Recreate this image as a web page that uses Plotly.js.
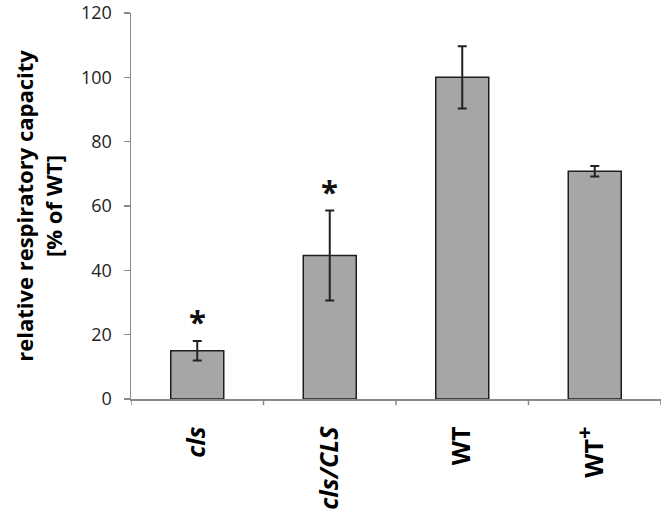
<!DOCTYPE html>
<html>
<head>
<meta charset="utf-8">
<script src="https://cdn.plot.ly/plotly-3.0.1.min.js"></script>
<style>html,body{margin:0;padding:0;background:#fff;}#chart{width:666px;height:513px;}</style>
</head>
<body>
<div id="chart"></div>
<script>
const categories = ["cls", "cls/CLS", "WT", "WT+"];
const tickLabels = ["<i>cls</i>", "<i>cls/CLS</i>", "WT", "WT<sup><span style=\"font-size:22px\">+</span></sup>"];
const values = [15, 44.6, 100, 70.8];
const errors = [3, 14, 9.7, 1.6];
const significant = [true, true, false, false];

const trace = {
  type: "bar",
  x: categories,
  y: values,
  width: 0.4,
  marker: {color: "#a6a6a6", line: {color: "#1e1e1e", width: 1.5}},
  error_y: {type: "data", array: errors, visible: true, color: "#222222", thickness: 2, width: 4.5},
  hoverinfo: "skip"
};

const annotations = [];
categories.forEach((c, i) => {
  if (significant[i]) {
    annotations.push({
      x: c, y: values[i] + errors[i], xref: "x", yref: "y",
      text: "<b>*</b>", showarrow: false, yanchor: "bottom", yshift: -3,
      font: {family: "Open Sans", size: 31, color: "#111"}
    });
  }
});

const layout = {
  width: 666, height: 513,
  margin: {l: 131, r: 5, t: 13, b: 114},
  paper_bgcolor: "#fff", plot_bgcolor: "#fff",
  showlegend: false,
  font: {family: "Open Sans", color: "#222"},
  xaxis: {
    type: "category",
    tickmode: "array", tickvals: categories, ticktext: tickLabels,
    tickangle: -90,
    tickfont: {family: "Open Sans", size: 25, color: "#000", weight: "bold"},
    showline: true, linecolor: "#8a8a8a", linewidth: 1.5,
    ticks: "", showgrid: false, zeroline: false,
    ticklabelstandoff: 16,
    range: [-0.5, 3.5]
  },
  yaxis: {
    range: [0, 120], dtick: 20, tick0: 0,
    showline: true, linecolor: "#8a8a8a", linewidth: 1.5,
    ticks: "outside", ticklen: 6, tickcolor: "#8a8a8a", tickwidth: 1.5,
    tickfont: {family: "Open Sans", size: 18, color: "#222"},
    ticklabelstandoff: 8,
    showgrid: false, zeroline: false,
    title: {text: "<b>relative respiratory capacity<br>[% of WT]</b>", font: {family: "Open Sans", size: 22, color: "#000"}, standoff: 12}
  },
  annotations: annotations,
  shapes: []
};

// category boundary ticks on the x axis (between categories)
for (let k = 0; k <= categories.length; k++) {
  layout.shapes.push({type: "line", xref: "x", yref: "paper", x0: k - 0.5, x1: k - 0.5, y0: 0, y1: -0.016,
    line: {color: "#8a8a8a", width: 1.5}});
}

Plotly.newPlot("chart", [trace], layout, {staticPlot: true, displayModeBar: false});
</script>
</body>
</html>
